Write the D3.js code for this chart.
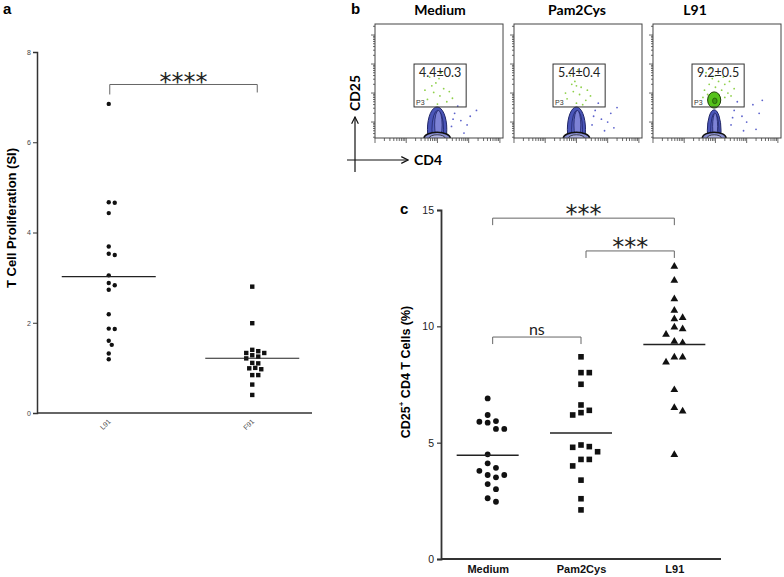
<!DOCTYPE html>
<html>
<head>
<meta charset="utf-8">
<script src="https://cdn.jsdelivr.net/npm/d3@7"></script>
<style>
  body { margin: 0; background: #fff; }
  svg { display: block; }
</style>
</head>
<body>
<svg width="784" height="577"></svg>
<script>
const svg = d3.select("svg");

// ---- panel a: T cell proliferation (SI)
const groupsA = ["L91", "F91"];
const siL91 = [6.85, 4.67, 4.66, 4.43, 3.69, 3.53, 3.50, 3.05, 2.88, 2.83, 2.73, 2.19, 1.86, 1.87, 1.60, 1.51, 1.32, 1.19];
const siF91 = [2.80, 1.99, 1.40, 1.33, 1.37, 1.33, 1.28, 1.25, 1.21, 1.10, 1.11, 0.97, 1.00, 0.99, 0.84, 0.84, 0.63, 0.40];
const ticksA = [0, 2, 4, 6, 8];
const sigA = { label: "****", y: 7.28 };

// ---- panel b: flow plots (values in log10 units)
const flowGroups = ["Medium", "Pam2Cys", "L91"];
const flowMean = [4.4, 5.4, 9.2];
const flowSem = [0.3, 0.4, 0.5];
const gateX = [2.25, 3.92];
const gateY = [2.52, 4.0];
// population contours: [cx, cy, rx, ry]
const popBody = [[2.99, 1.75, 0.31, 0.77], [3.0, 1.75, 0.29, 0.77], [2.96, 1.7, 0.22, 0.72]];
const popCore = [[3.03, 1.9, 0.12, 0.5], [3.03, 1.9, 0.11, 0.5], [2.99, 1.85, 0.08, 0.45]];
const popBase = [[2.99, 1.45, 0.42, 0.2], [3.0, 1.45, 0.42, 0.2], [2.96, 1.45, 0.38, 0.2]];
const popGreen = [null, null, [2.96, 2.76, 0.21, 0.28]];
const greenDots = [
  [[2.75,3.55],[2.95,3.35],[3.2,3.15],[2.88,3.02],[3.08,2.9],[2.68,2.78],[3.3,2.7],[3.0,2.62],[3.48,2.82],[2.82,3.25],[3.12,3.7],[3.38,3.05],[2.6,3.1],[3.05,3.5]],
  [[2.8,3.6],[2.95,3.4],[3.15,3.2],[2.9,3.05],[3.1,2.95],[2.7,2.8],[3.3,2.75],[3.0,2.65],[3.45,2.9],[2.85,3.3],[3.05,3.8],[3.35,3.1],[2.65,3.0],[3.0,3.25],[3.2,2.6]],
  [[2.7,3.7],[2.9,3.5],[3.1,3.4],[3.3,3.3],[2.8,3.3],[3.0,3.2],[3.2,3.1],[2.65,3.1],[3.4,3.0],[2.9,3.0],[3.1,2.95],[2.75,2.95],[3.3,2.85],[3.5,2.9],[3.0,3.6],[3.25,3.55],[2.85,3.85],[3.6,3.15],[3.45,3.4],[2.6,2.85]]
];
const blueDots = [
  [[3.55,2.3],[3.75,2.05],[4.05,2.2],[3.45,1.85],[3.85,1.62],[4.25,2.4],[3.65,2.55],[3.95,1.9],[3.5,2.1]],
  [[3.6,2.4],[3.8,2.1],[4.1,2.3],[3.5,1.9],[3.9,1.7],[4.3,2.5],[3.7,2.65],[4.0,2.0],[3.55,2.2],[4.2,1.8]],
  [[3.6,2.4],[3.85,2.2],[4.2,2.6],[3.5,1.9],[3.9,1.7],[4.4,2.3],[3.7,2.7],[4.0,2.0],[3.55,2.15],[4.3,1.75],[4.5,2.75]]
];

// ---- panel c: CD25+ CD4 T cells (%)
const groupsC = ["Medium", "Pam2Cys", "L91"];
const cdMedium = [6.90, 6.19, 5.93, 5.90, 5.86, 5.59, 5.59, 4.50, 4.11, 3.92, 3.79, 3.61, 3.51, 3.61, 3.22, 3.00, 2.46, 2.61];
const cdPam2Cys = [8.69, 8.01, 8.01, 7.51, 6.62, 6.29, 6.39, 6.19, 4.90, 4.80, 4.83, 4.61, 4.28, 4.28, 4.00, 3.39, 2.59, 2.11];
const cdL91 = [12.59, 11.99, 11.20, 10.70, 10.34, 10.39, 9.91, 9.98, 9.67, 9.31, 9.37, 8.69, 8.69, 8.48, 7.29, 6.52, 6.37, 4.50];
const ticksC = [0, 5, 10, 15];
const bracketsC = [
  { from: "Medium", to: "L91", y: 14.65, label: "***" },
  { from: "Pam2Cys", to: "L91", y: 13.24, label: "***" },
  { from: "Medium", to: "Pam2Cys", y: 9.54, label: "ns" }
];

const AX = "#333";
const ARIAL = "'Liberation Sans', Arial, sans-serif";
const CALI = "Lato, 'Open Sans', sans-serif";
const STAR = "'DejaVu Sans', sans-serif";

// simple dodge: put each point at the nearest free slot beside the centre
function dodge(vals, y, step, d) {
  const placed = [];
  vals.slice().sort((a, b) => b - a).forEach(v => {
    const py = y(v);
    for (let k = 0; k < 40; k++) {
      const off = k === 0 ? 0 : (k % 2 ? 1 : -1) * Math.ceil(k / 2) * step;
      if (placed.every(q => Math.hypot(q.dx - off, q.py - py) >= d)) {
        placed.push({ v, dx: off, py });
        break;
      }
    }
  });
  return placed;
}

function panelLetter(t, x, y) {
  svg.append("text").attr("x", x).attr("y", y).text(t)
    .attr("font-family", ARIAL).attr("font-weight", "bold").attr("font-size", 15);
}

// ======================= panel a
{
  const y = d3.scaleLinear().domain([0, 8]).range([413, 52]);
  const x = d3.scalePoint().domain(groupsA).range([37, 324]).padding(0.5);
  const g = svg.append("g");

  const ya = g.append("g").attr("transform", "translate(37,0)")
    .call(d3.axisLeft(y).tickValues(ticksA).tickSize(4).tickPadding(2));
  ya.select(".domain").attr("stroke", AX).attr("stroke-width", 1.5);
  ya.selectAll(".tick line").attr("stroke", AX);
  ya.selectAll(".tick text").attr("font-family", ARIAL).attr("font-size", 7).attr("fill", "#444");

  const xa = g.append("g").attr("transform", "translate(0,413)")
    .call(d3.axisBottom(x).tickSize(0).tickPadding(0));
  xa.select(".domain").remove();
  xa.selectAll(".tick text")
    .attr("font-family", ARIAL).attr("font-size", 7).attr("fill", "#444")
    .attr("text-anchor", "end").attr("dy", 0)
    .attr("transform", "translate(2,9) rotate(-45)");
  g.append("line").attr("x1", 37).attr("x2", 312).attr("y1", 413).attr("y2", 413)
    .attr("stroke", AX).attr("stroke-width", 1.5);

  // points
  const cl = x("L91"), cf = x("F91");
  dodge(siL91, y, 3, 5).forEach(p => {
    g.append("circle").attr("cx", cl + p.dx).attr("cy", p.py).attr("r", 2.2).attr("fill", "#111");
  });
  dodge(siF91, y, 3, 5).forEach(p => {
    g.append("rect").attr("x", cf + p.dx - 2.2).attr("y", p.py - 2.2)
      .attr("width", 4.4).attr("height", 4.4).attr("fill", "#111");
  });
  // mean lines
  [[cl, d3.mean(siL91)], [cf, d3.mean(siF91)]].forEach(([cx, m]) => {
    g.append("line").attr("x1", cx - 47).attr("x2", cx + 47)
      .attr("y1", y(m)).attr("y2", y(m)).attr("stroke", "#222").attr("stroke-width", 1.2);
  });

  // significance bracket
  const bx1 = cl + 1, bx2 = cf + 5, by = y(sigA.y);
  g.append("path")
    .attr("d", `M${bx1},${by + 10}V${by}H${bx2}V${by + 8}`)
    .attr("fill", "none").attr("stroke", "#666").attr("stroke-width", 1);
  g.append("text").attr("x", (bx1 + bx2) / 2).attr("y", by + 6)
    .attr("text-anchor", "middle").attr("font-family", STAR)
    .attr("font-size", 24).attr("fill", "#222").text(sigA.label);

  g.append("text").attr("transform", "translate(11,218) rotate(-90)")
    .attr("text-anchor", "middle").attr("dy", "0.36em")
    .attr("font-family", ARIAL).attr("font-weight", "bold").attr("font-size", 13)
    .text("T Cell Proliferation (SI)");
  panelLetter("a", 3, 14);
}

// ======================= panel b
{
  panelLetter("b", 351, 14);
  const band = d3.scaleBand().domain(flowGroups).range([375, 781]).paddingInner(0.079);
  const w = band.bandwidth(), h = 114, top = 24;
  const fx = d3.scaleLog().domain([Math.pow(10, 1.0), Math.pow(10, 5.1)]).range([0, w]);
  const fy = d3.scaleLog().domain([Math.pow(10, 1.45), Math.pow(10, 5.38)]).range([h, 0]);
  const px = v => fx(Math.pow(10, v));
  const py = v => fy(Math.pow(10, v));
  const defs = svg.append("defs");
  const titleDx = { Medium: 1, Pam2Cys: -1, L91: -22 };

  flowGroups.forEach((name, i) => {
    const g = svg.append("g").attr("transform", `translate(${band(name)},${top})`);
    defs.append("clipPath").attr("id", "clip" + i)
      .append("rect").attr("width", w).attr("height", h);

    svg.append("text").attr("x", band(name) + w / 2 + titleDx[name]).attr("y", 15)
      .attr("text-anchor", "middle").attr("font-family", CALI).attr("font-weight", "bold")
      .attr("font-size", 14).text(name);

    const plot = g.append("g").attr("clip-path", `url(#clip${i})`);
    // scattered events
    plot.selectAll(".bd").data(blueDots[i]).join("circle")
      .attr("cx", d => px(d[0])).attr("cy", d => py(d[1])).attr("r", 0.9).attr("fill", "#5d63cc");
    plot.selectAll(".gd").data(greenDots[i]).join("circle")
      .attr("cx", d => px(d[0])).attr("cy", d => py(d[1])).attr("r", 0.9).attr("fill", "#8fd04a");

    const ell = (e, fill, stroke, sw) => plot.append("ellipse")
      .attr("cx", px(e[0])).attr("cy", py(e[1]))
      .attr("rx", px(e[0] + e[2]) - px(e[0])).attr("ry", py(e[1]) - py(e[1] + e[3]))
      .attr("fill", fill).attr("stroke", stroke).attr("stroke-width", sw);
    ell(popBody[i], "#4a55b8", "#1f2566", 1);
    ell([popBody[i][0] + 0.02, popBody[i][1], popBody[i][2] * 0.6, popBody[i][3] * 0.85], "#5660c2", "#1f2566", 0.8);
    ell(popCore[i], "#7d82d6", "#1f2566", 0.8);
    ell(popBase[i], "#8a90d4", "#111", 1.6);
    ell([popBase[i][0], popBase[i][1], popBase[i][2] * 0.6, popBase[i][3] * 0.55], "#b3b6e6", "#222", 0.8);
    if (popGreen[i]) {
      ell(popGreen[i], "#55c21a", "#1d3d05", 1);
      ell([popGreen[i][0] + 0.02, popGreen[i][1] - 0.03, popGreen[i][2] * 0.35, popGreen[i][3] * 0.35], "#3c9a10", "#1d3d05", 0.6);
    }

    // gate
    const gx1 = px(gateX[0]), gx2 = px(gateX[1]), gy1 = py(gateY[1]), gy2 = py(gateY[0]);
    g.append("rect").attr("x", gx1).attr("y", gy1).attr("width", gx2 - gx1).attr("height", gy2 - gy1)
      .attr("fill", "none").attr("stroke", "#333").attr("stroke-width", 1);
    g.append("text").attr("x", (gx1 + gx2) / 2).attr("y", gy1 + 12.5)
      .attr("text-anchor", "middle").attr("font-family", CALI).attr("font-size", 12.5)
      .attr("fill", "#222").text(`${flowMean[i].toFixed(1)}±${flowSem[i].toFixed(1)}`);
    g.append("text").attr("x", gx1 + 2).attr("y", gy2 - 2)
      .attr("font-family", ARIAL).attr("font-size", 7).attr("fill", "#333").text("P3");

    // frame and log ticks
    g.append("rect").attr("width", w).attr("height", h)
      .attr("fill", "none").attr("stroke", "#444").attr("stroke-width", 1);
    const isMajor = v => Math.abs(Math.log10(v) - Math.round(Math.log10(v))) < 1e-6;
    g.selectAll(".ty").data(fy.ticks()).join("line")
      .attr("x1", d => isMajor(d) ? -4 : -2).attr("x2", 0)
      .attr("y1", d => fy(d)).attr("y2", d => fy(d))
      .attr("stroke", "#444").attr("stroke-width", 0.8);
    g.selectAll(".tx").data(fx.ticks()).join("line")
      .attr("y1", h).attr("y2", d => h + (isMajor(d) ? 5 : 3))
      .attr("x1", d => fx(d)).attr("x2", d => fx(d))
      .attr("stroke", "#444").attr("stroke-width", 0.8);
  });

  // CD4 / CD25 arrows
  defs.append("marker").attr("id", "arr").attr("viewBox", "0 0 10 10")
    .attr("refX", 9).attr("refY", 5).attr("markerWidth", 7).attr("markerHeight", 7)
    .attr("orient", "auto")
    .append("path").attr("d", "M1,1L9,5L1,9").attr("fill", "none").attr("stroke", "#111").attr("stroke-width", 1.4);
  svg.append("line").attr("x1", 355).attr("x2", 355).attr("y1", 172).attr("y2", 117)
    .attr("stroke", "#111").attr("stroke-width", 1.2).attr("marker-end", "url(#arr)");
  svg.append("line").attr("x1", 347).attr("x2", 408).attr("y1", 160).attr("y2", 160)
    .attr("stroke", "#111").attr("stroke-width", 1.2).attr("marker-end", "url(#arr)");
  svg.append("text").attr("x", 414).attr("y", 165)
    .attr("font-family", CALI).attr("font-weight", "bold").attr("font-size", 14).text("CD4");
  svg.append("text").attr("transform", "translate(360,93) rotate(-90)")
    .attr("text-anchor", "middle")
    .attr("font-family", CALI).attr("font-weight", "bold").attr("font-size", 14).text("CD25");
}

// ======================= panel c
{
  const y = d3.scaleLinear().domain([0, 15]).range([559, 210]);
  const x = d3.scalePoint().domain(groupsC).range([441, 721]).padding(0.5);
  const g = svg.append("g");

  const ya = g.append("g").attr("transform", "translate(441,0)")
    .call(d3.axisLeft(y).tickValues(ticksC).tickSize(4).tickPadding(3));
  ya.select(".domain").attr("stroke", AX).attr("stroke-width", 1.8);
  ya.selectAll(".tick line").attr("stroke", AX).attr("stroke-width", 1.2);
  ya.selectAll(".tick text").attr("font-family", ARIAL).attr("font-size", 10.5).attr("fill", "#222");

  const xa = g.append("g").attr("transform", "translate(0,559)")
    .call(d3.axisBottom(x).tickSize(0).tickPadding(6));
  xa.select(".domain").remove();
  xa.selectAll(".tick text").attr("font-family", ARIAL).attr("font-weight", "bold")
    .attr("font-size", 11).attr("fill", "#111");
  g.append("line").attr("x1", 441).attr("x2", 721).attr("y1", 559).attr("y2", 559)
    .attr("stroke", AX).attr("stroke-width", 1.8);

  const series = [cdMedium, cdPam2Cys, cdL91];
  const tri = d3.symbol().type(d3.symbolTriangle).size(26);
  series.forEach((vals, i) => {
    const cx = x(groupsC[i]);
    dodge(vals, y, 8.3, 7.5).forEach(p => {
      if (i === 0) {
        g.append("circle").attr("cx", cx + p.dx).attr("cy", p.py).attr("r", 2.9).attr("fill", "#111");
      } else if (i === 1) {
        g.append("rect").attr("x", cx + p.dx - 2.8).attr("y", p.py - 2.8)
          .attr("width", 5.6).attr("height", 5.6).attr("fill", "#111");
      } else {
        g.append("path").attr("d", tri).attr("transform", `translate(${cx + p.dx},${p.py + 0.5})`)
          .attr("fill", "#111");
      }
    });
    const m = d3.mean(vals);
    g.append("line").attr("x1", cx - 31).attr("x2", cx + 31)
      .attr("y1", y(m)).attr("y2", y(m)).attr("stroke", "#222").attr("stroke-width", 1.4);
  });

  bracketsC.forEach(b => {
    const x1 = x(b.from) + 5, x2 = x(b.to), by = y(b.y);
    g.append("path").attr("d", `M${x1},${by + 7}V${by}H${x2}V${by + 7}`)
      .attr("fill", "none").attr("stroke", "#666").attr("stroke-width", 1);
    const t = g.append("text").attr("x", (x1 + x2) / 2).attr("text-anchor", "middle").text(b.label);
    if (b.label === "ns") {
      t.attr("y", by - 2).attr("font-family", CALI).attr("font-size", 16).attr("fill", "#222");
    } else {
      t.attr("y", by + 4).attr("font-family", STAR).attr("font-size", 24).attr("fill", "#222");
    }
  });

  const yl = g.append("text").attr("transform", "translate(405,372) rotate(-90)")
    .attr("text-anchor", "middle").attr("dy", "0.36em")
    .attr("font-family", ARIAL).attr("font-weight", "bold").attr("font-size", 12.5);
  yl.append("tspan").text("CD25");
  yl.append("tspan").attr("font-size", 8).attr("dy", "-0.7em").text("+");
  yl.append("tspan").attr("dy", "0.45em").text(" CD4 T Cells (%)");
  panelLetter("c", 400, 214);
}
</script>
</body>
</html>
